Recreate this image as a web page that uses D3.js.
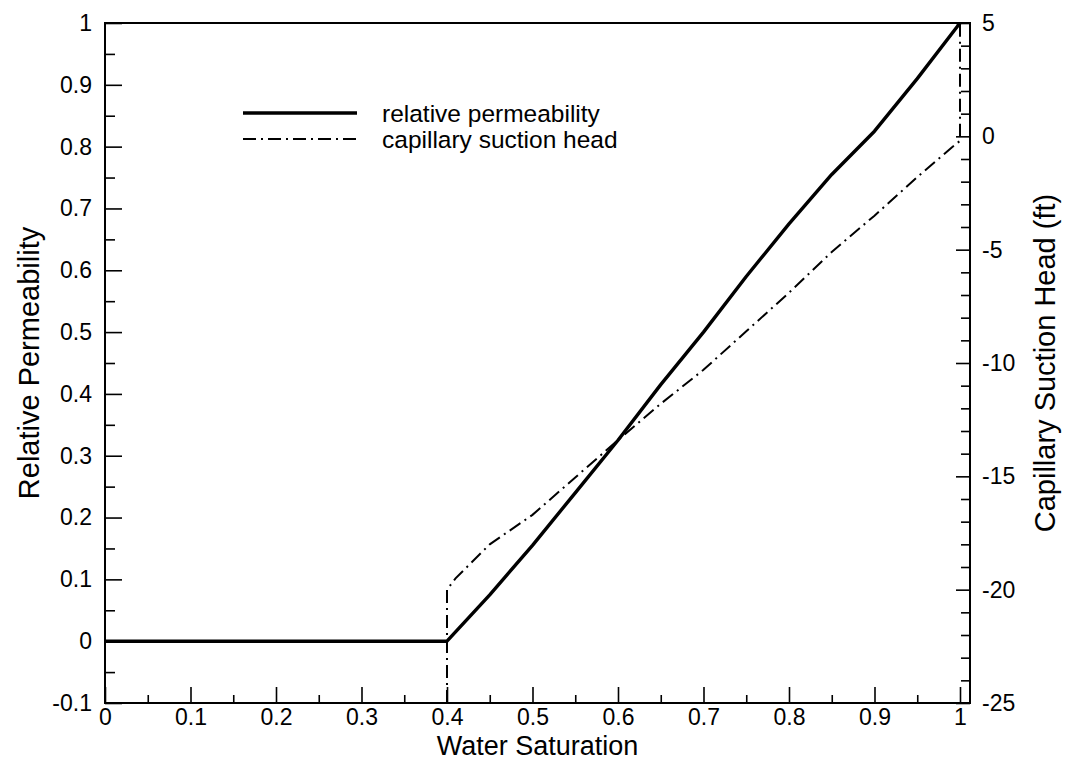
<!DOCTYPE html>
<html>
<head>
<meta charset="utf-8">
<script src="https://cdn.jsdelivr.net/npm/d3@7"></script>
<style>
  body { margin: 0; background: #fff; }
  text { font-family: "Liberation Sans", Arial, sans-serif; fill: #000; }
</style>
</head>
<body>
<div id="chart"></div>
<script>
// relative permeability vs water saturation (left axis)
const permSaturation = [0, 0.4, 0.45, 0.5, 0.55, 0.6, 0.65, 0.7, 0.75, 0.8, 0.85, 0.9, 0.95, 1.0];
const permValues     = [0, 0, 0.075, 0.155, 0.24, 0.325, 0.415, 0.5, 0.59, 0.675, 0.755, 0.825, 0.91, 1.0];

// capillary suction head (ft) vs water saturation (right axis)
const headSaturation = [0.4, 0.4, 0.41, 0.45, 0.5, 0.55, 0.6, 0.65, 0.7, 0.75, 0.8, 0.85, 0.9, 0.95, 0.99, 1.0, 1.0];
const headValues     = [-25, -20, -19.5, -18.0, -16.7, -15.05, -13.4, -11.8, -10.3, -8.6, -6.9, -5.1, -3.5, -1.8, -0.5, -0.2, 5];

const xTicks = [0, 0.1, 0.2, 0.3, 0.4, 0.5, 0.6, 0.7, 0.8, 0.9, 1];
const leftTicks = [-0.1, 0, 0.1, 0.2, 0.3, 0.4, 0.5, 0.6, 0.7, 0.8, 0.9, 1];
const rightTicks = [-25, -20, -15, -10, -5, 0, 5];

const legendLabels = ['relative permeability', 'capillary suction head'];

const width = 1070, height = 763;
const margin = {top: 23, right: 100, bottom: 60, left: 105};

const svg = d3.select('#chart').append('svg')
    .attr('width', width)
    .attr('height', height);

const x = d3.scaleLinear().domain([0, 1.0117]).range([margin.left, width - margin.right]);
const yLeft = d3.scaleLinear().domain([-0.1, 1]).range([height - margin.bottom, margin.top]);
const yRight = d3.scaleLinear().domain([-25, 5]).range([height - margin.bottom, margin.top]);

// plain hyphen minus like the original plot
const fmt = d => String(+d.toFixed(1));

// x axis, ticks pointing inward
const xAxis = svg.append('g')
    .attr('transform', `translate(0, ${height - margin.bottom})`)
    .call(d3.axisBottom(x).tickValues(xTicks).tickSize(-16).tickPadding(14).tickFormat(fmt));
xAxis.append('g')
    .call(d3.axisBottom(x).tickValues(d3.range(0.05, 1, 0.1)).tickSize(-8).tickFormat(''));

// left axis
const leftAxis = svg.append('g')
    .attr('transform', `translate(${margin.left}, 0)`)
    .call(d3.axisLeft(yLeft).tickValues(leftTicks).tickSize(-17).tickPadding(13).tickFormat(fmt));
leftAxis.append('g')
    .call(d3.axisLeft(yLeft).tickValues(d3.range(-0.05, 1, 0.1)).tickSize(-10).tickFormat(''));

// right axis
const rightAxis = svg.append('g')
    .attr('transform', `translate(${width - margin.right}, 0)`)
    .call(d3.axisRight(yRight).tickValues(rightTicks).tickSize(-14).tickPadding(12).tickFormat(fmt));
rightAxis.append('g')
    .call(d3.axisRight(yRight).tickValues(d3.range(-24, 5, 1).filter(d => d % 5 !== 0)).tickSize(-9).tickFormat(''));

svg.selectAll('.domain').remove();
svg.selectAll('.tick line').attr('stroke', '#000').attr('stroke-width', 1.6);
svg.selectAll('.tick text').style('font-size', '23px').attr('fill', '#000');
xAxis.selectAll('.tick text').attr('dy', '0.35em');

// frame
svg.append('rect')
    .attr('x', margin.left)
    .attr('y', margin.top)
    .attr('width', width - margin.right - margin.left)
    .attr('height', height - margin.bottom - margin.top)
    .attr('fill', 'none')
    .attr('stroke', '#000')
    .attr('stroke-width', 2);

// lines
const permLine = d3.line()
    .x((d, i) => x(permSaturation[i]))
    .y(d => yLeft(d));
svg.append('path')
    .attr('d', permLine(permValues))
    .attr('fill', 'none')
    .attr('stroke', '#000')
    .attr('stroke-width', 3.4)
    .attr('stroke-linejoin', 'round');

const headLine = d3.line()
    .x((d, i) => x(headSaturation[i]))
    .y(d => yRight(d));
svg.append('path')
    .attr('d', headLine(headValues))
    .attr('fill', 'none')
    .attr('stroke', '#000')
    .attr('stroke-width', 2)
    .attr('stroke-dasharray', '13,5,2,5');

// legend
const legend = svg.append('g');
const legendY = [113, 139];
legend.selectAll('line')
    .data(legendLabels)
    .join('line')
    .attr('x1', 243).attr('x2', 357)
    .attr('y1', (d, i) => legendY[i]).attr('y2', (d, i) => legendY[i])
    .attr('stroke', '#000')
    .attr('stroke-width', (d, i) => i === 0 ? 3.4 : 2)
    .attr('stroke-dasharray', (d, i) => i === 0 ? null : '13,5,2,5');
legend.selectAll('text')
    .data(legendLabels)
    .join('text')
    .attr('x', 382)
    .attr('y', (d, i) => legendY[i])
    .attr('dy', '0.35em')
    .style('font-size', '24.5px')
    .text(d => d);

// axis titles
svg.append('text')
    .attr('x', (margin.left + width - margin.right) / 2)
    .attr('y', 755)
    .attr('text-anchor', 'middle')
    .style('font-size', '27px')
    .text('Water Saturation');

svg.append('text')
    .attr('transform', `translate(29, ${(margin.top + height - margin.bottom) / 2}) rotate(-90)`)
    .attr('text-anchor', 'middle')
    .attr('dy', '0.35em')
    .style('font-size', '29px')
    .text('Relative Permeability');

svg.append('text')
    .attr('transform', `translate(1045, ${(margin.top + height - margin.bottom) / 2}) rotate(-90)`)
    .attr('text-anchor', 'middle')
    .attr('dy', '0.35em')
    .style('font-size', '29px')
    .text('Capillary Suction Head (ft)');
</script>
</body>
</html>
